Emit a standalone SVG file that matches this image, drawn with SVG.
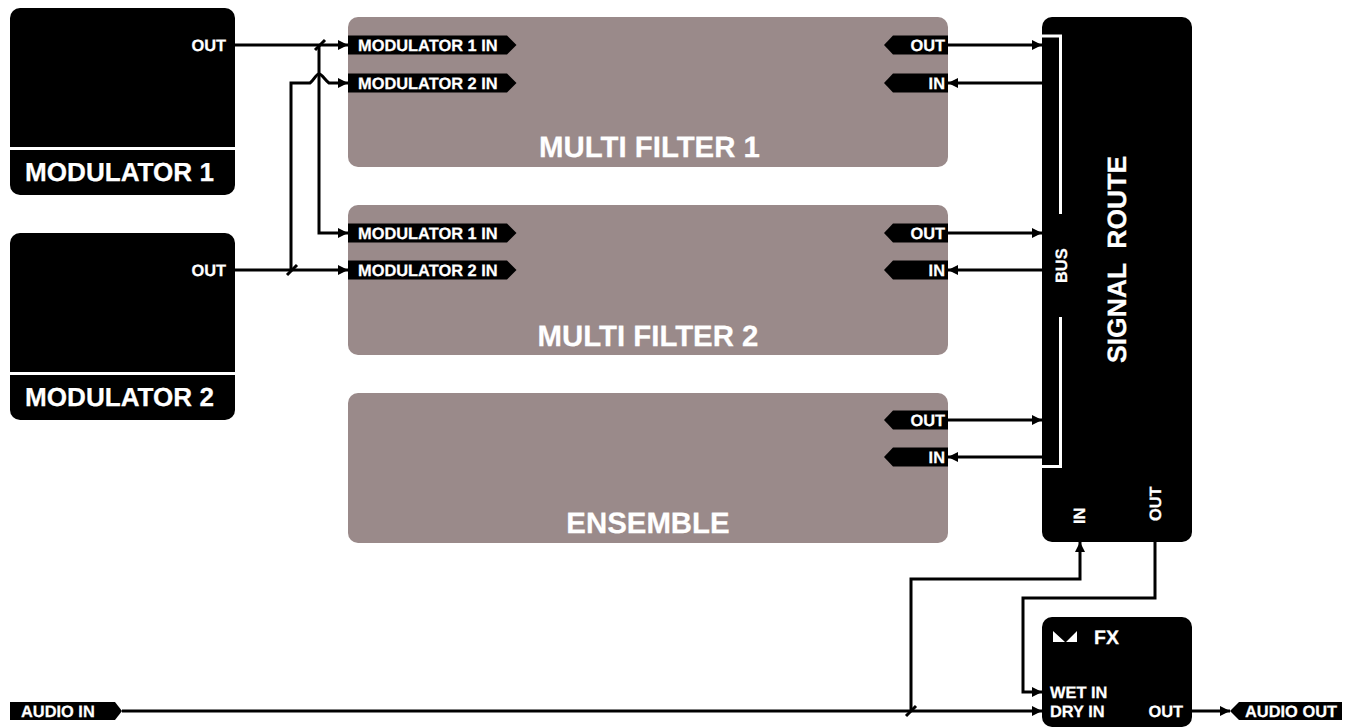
<svg xmlns="http://www.w3.org/2000/svg" width="1353" height="727" viewBox="0 0 1353 727">
<style>
text{font-family:"Liberation Sans",Arial,sans-serif;font-weight:700;fill:#fff;stroke:#fff;stroke-width:.25;text-rendering:geometricPrecision}
.k{fill:#000}
.g{fill:#9a8a8a}
.s{font-size:16.4px}
.b{font-size:26.1px}
.m{font-size:29.4px;text-anchor:middle}
.e{text-anchor:end}
.w{fill:none;stroke:#fff;stroke-width:3}
.c path{fill:none;stroke:#000;stroke-width:3}
.a{marker-end:url(#ah)}
</style>
<defs>
<marker id="ah" markerUnits="userSpaceOnUse" markerWidth="12" markerHeight="12" refX="10" refY="6" orient="auto"><path d="M0 1L10 6L0 11Z" fill="#000"/></marker>
<path id="tr" d="M0 0H159L168.500 9.500L159 19H0Z"/>
<path id="tl" d="M64 0H9L0 9.500L9 19H64Z"/>
</defs>
<g id="modulator1"><rect class="k" x="10" y="8" width="225" height="187" rx="10"/><rect x="10" y="147" width="225" height="3" fill="#fff"/><text class="s e" x="226" y="51">OUT</text><text class="b" x="25" y="181">MODULATOR 1</text></g>
<g id="modulator2"><rect class="k" x="10" y="233" width="225" height="187" rx="10"/><rect x="10" y="372" width="225" height="3" fill="#fff"/><text class="s e" x="226" y="276">OUT</text><text class="b" x="25" y="406">MODULATOR 2</text></g>
<g id="multifilter1"><rect class="g" x="348" y="17" width="600" height="150" rx="10"/>
<use href="#tr" x="348" y="35.500"/><text class="s" x="358" y="51">MODULATOR 1 IN</text>
<use href="#tr" x="348" y="73.500"/><text class="s" x="358" y="89">MODULATOR 2 IN</text>
<use href="#tl" x="884" y="35.500"/><text class="s e" x="945" y="51">OUT</text>
<use href="#tl" x="884" y="73.500"/><text class="s e" x="945" y="89">IN</text>
<text class="m" x="649.500" y="157">MULTI FILTER 1</text></g>
<g id="multifilter2"><rect class="g" x="348" y="205" width="600" height="150" rx="10"/>
<use href="#tr" x="348" y="223.500"/><text class="s" x="358" y="239">MODULATOR 1 IN</text>
<use href="#tr" x="348" y="260.500"/><text class="s" x="358" y="276">MODULATOR 2 IN</text>
<use href="#tl" x="884" y="223.500"/><text class="s e" x="945" y="239">OUT</text>
<use href="#tl" x="884" y="260.500"/><text class="s e" x="945" y="276">IN</text>
<text class="m" x="648" y="346">MULTI FILTER 2</text></g>
<g id="ensemble"><rect class="g" x="348" y="393" width="600" height="150" rx="10"/>
<use href="#tl" x="884" y="410.500"/><text class="s e" x="945" y="426">OUT</text>
<use href="#tl" x="884" y="447.500"/><text class="s e" x="945" y="463">IN</text>
<text class="m" x="648" y="533">ENSEMBLE</text></g>
<g id="signalroute"><rect class="k" x="1042" y="17" width="150" height="525" rx="10"/>
<path class="w" d="M1042 36H1060.500V214M1060.500 317V466.500H1042"/>
<text class="s" transform="translate(1067 283) rotate(-90)">BUS</text>
<text transform="translate(1126 363) rotate(-90)" style="font-size:26.500px;white-space:pre">SIGNAL  ROUTE</text>
<text class="s" transform="translate(1085 524) rotate(-90)">IN</text>
<text class="s" transform="translate(1161 521) rotate(-90)">OUT</text></g>
<g id="fx"><rect class="k" x="1042" y="617" width="150" height="110" rx="10"/>
<path d="M1053 631L1065 642H1053ZM1077 631V642H1066Z" fill="#fff"/>
<text x="1094" y="644" style="font-size:19.500px">FX</text>
<text class="s" x="1050" y="698">WET IN</text><text class="s" x="1050" y="717">DRY IN</text><text class="s e" x="1183" y="717">OUT</text></g>
<g id="audioin"><path class="k" d="M10 702H115L122 711L115 720H10Z"/><text class="s" x="21" y="717">AUDIO IN</text></g>
<g id="audioout"><path class="k" d="M1342 702H1239L1230 711L1239 720H1342Z"/><text class="s e" x="1337" y="717">AUDIO OUT</text></g>
<g id="connectors" class="c">
<path class="a" d="M235 45H348"/>
<path class="a" d="M319 45V233H348"/>
<path d="M315 50L325 40"/>
<path class="a" d="M235 270H348"/>
<path class="a" d="M291 270V83H310C314 80 316 74 319 74C322 74 325 80 329 83H348"/>
<path d="M287 275L297 265"/>
<path class="a" d="M948 45H1042"/>
<path class="a" d="M1042 83H948"/>
<path class="a" d="M948 233H1042"/>
<path class="a" d="M1042 270H948"/>
<path class="a" d="M948 420H1042"/>
<path class="a" d="M1042 457H948"/>
<path class="a" d="M122 711H1042"/>
<path class="a" d="M911 711V579H1080V542"/>
<path d="M906 716L916 706"/>
<path class="a" d="M1155 542V598H1023V692H1042"/>
<path class="a" d="M1192 711H1230"/>
</g>
</svg>
